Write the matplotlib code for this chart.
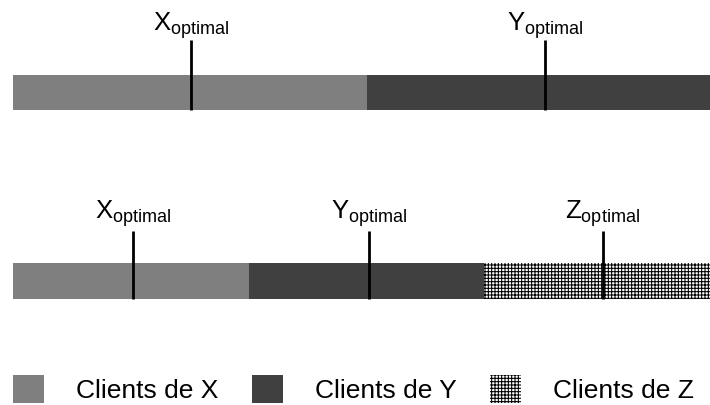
import matplotlib
matplotlib.use("Agg")
import matplotlib.pyplot as plt
from matplotlib.patches import Patch

plt.rcParams['font.family'] = ['Liberation Sans', 'DejaVu Sans']
plt.rcParams['mathtext.fontset'] = 'custom'
plt.rcParams['mathtext.rm'] = 'Liberation Sans'
plt.rcParams['mathtext.it'] = 'Liberation Sans:italic'
plt.rcParams['hatch.linewidth'] = 0.75

# parts of the client line (fraction of the line), top and bottom scenarios
top_groups = ["X", "Y"]
top_bounds = [0.0, 0.508, 1.0]
top_optimum = [0.256, 0.763]

bottom_groups = ["X", "Y", "Z"]
bottom_bounds = [0.0, 0.339, 0.676, 1.0]
bottom_optimum = [0.172, 0.511, 0.846]

legend_labels = ["Clients de X", "Clients de Y", "Clients de Z"]

styles = {
    "X": dict(facecolor="#7f7f7f", edgecolor="#7f7f7f", hatch=None),
    "Y": dict(facecolor="#404040", edgecolor="#404040", hatch=None),
    "Z": dict(facecolor="white", edgecolor="black", hatch="+++++"),
}

fig = plt.figure(figsize=(7.1, 4.05), dpi=100)
ax = fig.add_axes([13 / 710, 0, 697 / 710, 1])
ax.set_xlim(0, 1)
ax.set_ylim(405, 0)
ax.axis("off")


def draw_row(groups, bounds, optimum, y_top, y_bot, line_top, text_y):
    for i, g in enumerate(groups):
        st = styles[g]
        ax.barh((y_top + y_bot) / 2, bounds[i + 1] - bounds[i], left=bounds[i],
                height=y_bot - y_top, facecolor=st["facecolor"],
                edgecolor=st["edgecolor"], hatch=st["hatch"], linewidth=0)
    for g, x in zip(groups, optimum):
        ax.vlines(x, line_top, y_bot, color="black", linewidth=2)
        ax.text(x, text_y, r"$\mathregular{%s_{optimal}}$" % g, ha="center",
                va="baseline", fontsize=18.5, clip_on=False)


draw_row(top_groups, top_bounds, top_optimum, 75, 110, 40, 31)
draw_row(bottom_groups, bottom_bounds, bottom_optimum, 263, 299, 231, 219)

handles = [Patch(facecolor=styles[g]["facecolor"], edgecolor=styles[g]["edgecolor"],
                 hatch=styles[g]["hatch"], linewidth=0) for g in bottom_groups]
fig.legend(handles, legend_labels, loc="lower left", bbox_to_anchor=(13 / 710, 2 / 405),
           ncol=3, frameon=False, fontsize=19, borderpad=0, borderaxespad=0,
           handlelength=1.17, handleheight=1.25, handletextpad=1.22, columnspacing=1.27)

fig.savefig("out.png", dpi=100)
